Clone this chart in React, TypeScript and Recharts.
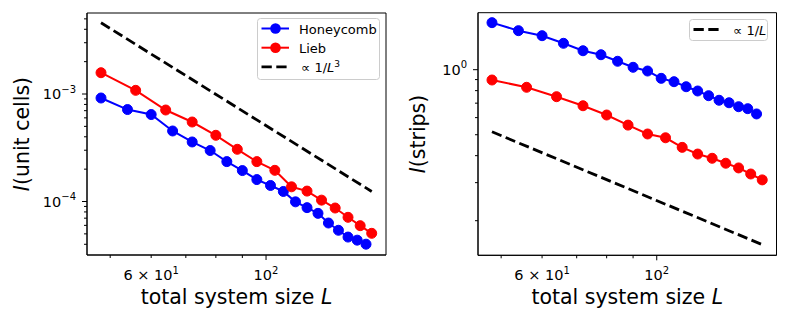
import React from "react";
import { LineChart, Line, XAxis, YAxis, Legend, Label, ReferenceArea } from "recharts";

const FONT = "DejaVu Sans";

// system sizes
const honeycombL = [48, 54, 60, 66, 72, 78, 84, 90, 96, 102, 108, 114, 120, 126, 132, 138, 144, 150, 156];
const liebL = [48, 56, 64, 72, 80, 88, 96, 104, 112, 120, 128, 136, 144, 152, 160];
const guideL = [48, 160];

// left panel: I(unit cells)
const honeycombUnitCells = [
  9.18e-4, 7.17e-4, 6.44e-4, 4.53e-4, 3.58e-4, 2.98e-4, 2.35e-4, 1.94e-4, 1.6e-4, 1.41e-4,
  1.24e-4, 9.93e-5, 8.77e-5, 7.76e-5, 6.31e-5, 5.4e-5, 4.67e-5, 4.37e-5, 4.01e-5,
];
const liebUnitCells = [
  1.578e-3, 1.082e-3, 7.1e-4, 5.49e-4, 4.13e-4, 3.06e-4, 2.35e-4, 1.95e-4, 1.37e-4, 1.25e-4,
  1.03e-4, 8.7e-5, 7.13e-5, 5.96e-5, 5.06e-5,
];
const cubicGuide = [4.6e-3, 1.24e-4];

// right panel: I(strips)
const honeycombStrips = [
  1.651, 1.516, 1.437, 1.325, 1.224, 1.173, 1.094, 1.026, 0.986, 0.912, 0.88, 0.834, 0.797,
  0.758, 0.722, 0.703, 0.674, 0.66, 0.624,
];
const liebStrips = [
  0.896, 0.829, 0.75, 0.681, 0.617, 0.554, 0.504, 0.484, 0.437, 0.407, 0.389, 0.369, 0.351,
  0.329, 0.309,
];
const linearGuide = [0.516, 0.155];

// ticks
const xTicks = [50, 60, 70, 80, 90, 100];
const xMajor = [100];
const xTickLabels = [
  { value: 60, base: "6 × 10", exp: "1" },
  { value: 100, base: "10", exp: "2" },
];
const unitCellTicks = [
  4e-5, 5e-5, 6e-5, 7e-5, 8e-5, 9e-5, 1e-4, 2e-4, 3e-4, 4e-4, 5e-4, 6e-4, 7e-4, 8e-4, 9e-4,
  1e-3, 2e-3, 3e-3, 4e-3, 5e-3,
];
const unitCellMajor = [1e-4, 1e-3];
const unitCellLabels = [
  { value: 1e-4, base: "10", exp: "−4" },
  { value: 1e-3, base: "10", exp: "−3" },
];
const stripTicks = [0.2, 0.3, 0.4, 0.5, 0.6, 0.7, 0.8, 0.9, 1];
const stripMajor = [1];
const stripLabels = [{ value: 1, base: "10", exp: "0" }];

const xDomain = [45.1, 170.5];

const zip = (xs: number[], ys: number[]) => xs.map((L, i) => ({ L, v: ys[i] }));
const same = (a: number, b: number) => Math.abs(Math.log10(a) - Math.log10(b)) < 1e-6;

type TickLab = { value: number; base: string; exp: string };

const makeXTick = (labels: TickLab[], majors: number[]) => (props: any) => {
  const { x, y, payload } = props;
  const lab = labels.find((t) => same(t.value, payload.value));
  const major = majors.some((m) => same(m, payload.value));
  return (
    <g>
      <line x1={x} x2={x} y1={y} y2={y + (major ? 5 : 3)} stroke="#000" strokeWidth={1} />
      {lab && (
        <text x={x} y={y + 25} textAnchor="middle" fontSize={14.5} fontFamily={FONT} fill="#000">
          <tspan>{lab.base}</tspan>
          <tspan dy={-6.5} fontSize={10}>{lab.exp}</tspan>
        </text>
      )}
    </g>
  );
};

const makeYTick = (labels: TickLab[], majors: number[]) => (props: any) => {
  const { x, y, payload } = props;
  const lab = labels.find((t) => same(t.value, payload.value));
  const major = majors.some((m) => same(m, payload.value));
  return (
    <g>
      <line x1={x} x2={x - (major ? 5 : 3)} y1={y} y2={y} stroke="#000" strokeWidth={1} />
      {lab && (
        <text x={x - 11} y={y + 5} textAnchor="end" fontSize={14.5} fontFamily={FONT} fill="#000">
          <tspan>{lab.base}</tspan>
          <tspan dy={-6.5} fontSize={10}>{lab.exp}</tspan>
        </text>
      )}
    </g>
  );
};

type LegendItem = { text: React.ReactNode; color: string; dashed?: boolean; marker?: boolean };

function LegendBox({ items, w, h }: { items: LegendItem[]; w: number; h: number }) {
  return (
    <svg width={w} height={h} style={{ display: "block" }}>
      <rect x={0.5} y={0.5} width={w - 1} height={h - 1} rx={3} fill="#fff" fillOpacity={0.8} stroke="#cccccc" />
      {items.map((it, i) => {
        const cy = 10.5 + i * 19.2;
        return (
          <g key={i}>
            <line
              x1={4.5}
              x2={32}
              y1={cy}
              y2={cy}
              stroke={it.color}
              strokeWidth={it.dashed ? 2.8 : 2}
              strokeDasharray={it.dashed ? "10.3 4.5" : undefined}
            />
            {it.marker && <circle cx={18.5} cy={cy} r={5.3} fill={it.color} />}
            <text x={it.dashed ? 44 : 42} y={cy + 5} fontSize={13} fontFamily={FONT} fill="#000">
              {it.text}
            </text>
          </g>
        );
      })}
    </svg>
  );
}

type PanelProps = {
  blue: { L: number; v: number }[];
  red: { L: number; v: number }[];
  guide: { L: number; v: number }[];
  yDomain: number[];
  yTicks: number[];
  yMajor: number[];
  yLabels: TickLab[];
  yTitle: string;
  margin: { top: number; right: number; bottom: number; left: number };
  xAxisHeight: number;
  yTitleX: number;
  legend: { items: LegendItem[]; left: number; top: number; w: number; h: number };
};

function Panel(p: PanelProps) {
  const W = 394;
  const H = 323;
  const yAxisW = 60;
  const plotLeft = p.margin.left + yAxisW;
  const plotRight = W - p.margin.right;
  const plotTop = p.margin.top;
  const plotBottom = H - p.margin.bottom - p.xAxisHeight;
  const cx = (plotLeft + plotRight) / 2;
  const cy = (plotTop + plotBottom) / 2;

  return (
    <LineChart width={W} height={H} margin={p.margin}>
      <XAxis
        dataKey="L"
        type="number"
        scale="log"
        domain={xDomain}
        allowDataOverflow
        ticks={xTicks}
        interval={0}
        tickSize={0}
        tickMargin={0}
        tickLine={false}
        height={p.xAxisHeight}
        axisLine={{ stroke: "#000", strokeWidth: 1 }}
        tick={makeXTick(xTickLabels, xMajor)}
      >
        <Label
          content={() => (
            <text x={cx} y={plotBottom + 49} textAnchor="middle" fontSize={20.5} fontFamily={FONT} fill="#000">
              total system size <tspan fontStyle="italic">L</tspan>
            </text>
          )}
        />
      </XAxis>
      <YAxis
        type="number"
        scale="log"
        domain={p.yDomain}
        allowDataOverflow
        ticks={p.yTicks}
        interval={0}
        tickSize={0}
        tickMargin={0}
        tickLine={false}
        width={yAxisW}
        axisLine={{ stroke: "#000", strokeWidth: 1 }}
        tick={makeYTick(p.yLabels, p.yMajor)}
      >
        <Label
          content={() => (
            <text
              x={p.yTitleX}
              y={cy}
              transform={`rotate(-90, ${p.yTitleX}, ${cy})`}
              textAnchor="middle"
              fontSize={20.5}
              fontFamily={FONT}
              fill="#000"
            >
              <tspan fontStyle="italic">I</tspan>({p.yTitle})
            </text>
          )}
        />
      </YAxis>
      <ReferenceArea
        x1={xDomain[0]}
        x2={xDomain[1]}
        y1={p.yDomain[0]}
        y2={p.yDomain[1]}
        ifOverflow="visible"
        fill="none"
        fillOpacity={0}
        stroke="#000"
        strokeWidth={1}
        strokeOpacity={1}
      />
      <Line
        data={p.blue}
        dataKey="v"
        type="linear"
        stroke="#0000ff"
        strokeWidth={2}
        dot={{ r: 5, fill: "#0000ff", stroke: "#0000ff", strokeWidth: 1 }}
        isAnimationActive={false}
      />
      <Line
        data={p.red}
        dataKey="v"
        type="linear"
        stroke="#ff0000"
        strokeWidth={2}
        dot={{ r: 5, fill: "#ff0000", stroke: "#ff0000", strokeWidth: 1 }}
        isAnimationActive={false}
      />
      <Line
        data={p.guide}
        dataKey="v"
        type="linear"
        stroke="#000"
        strokeWidth={2.8}
        strokeDasharray="10.3 4.5"
        dot={false}
        isAnimationActive={false}
      />
      <Legend
        layout="vertical"
        align="center"
        verticalAlign="middle"
        wrapperStyle={{ left: p.legend.left, top: p.legend.top, width: p.legend.w, height: p.legend.h }}
        content={() => <LegendBox items={p.legend.items} w={p.legend.w} h={p.legend.h} />}
      />
    </LineChart>
  );
}

export default function App() {
  return (
    <div
      style={{
        position: "absolute",
        left: 0,
        top: 0,
        width: 788,
        height: 323,
        background: "#fff",
        display: "flex",
      }}
    >
      <Panel
        blue={zip(honeycombL, honeycombUnitCells)}
        red={zip(liebL, liebUnitCells)}
        guide={zip(guideL, cubicGuide)}
        yDomain={[3.18e-5, 5.67e-3]}
        yTicks={unitCellTicks}
        yMajor={unitCellMajor}
        yLabels={unitCellLabels}
        yTitle="unit cells"
        margin={{ top: 13, right: 8, bottom: 0, left: 27 }}
        xAxisHeight={68}
        yTitleX={28.5}
        legend={{
          left: 257,
          top: 18,
          w: 123,
          h: 62,
          items: [
            { text: "Honeycomb", color: "#0000ff", marker: true },
            { text: "Lieb", color: "#ff0000", marker: true },
            {
              text: (
                <>
                  ∝ 1/<tspan fontStyle="italic">L</tspan>
                  <tspan dy={-5} fontSize={9}>3</tspan>
                </>
              ),
              color: "#000",
              dashed: true,
            },
          ],
        }}
      />
      <Panel
        blue={zip(honeycombL, honeycombStrips)}
        red={zip(liebL, liebStrips)}
        guide={zip(guideL, linearGuide)}
        yDomain={[0.1383, 1.836]}
        yTicks={stripTicks}
        yMajor={stripMajor}
        yLabels={stripLabels}
        yTitle="strips"
        margin={{ top: 12.7, right: 11.5, bottom: 0, left: 24 }}
        xAxisHeight={67.7}
        yTitleX={30.5}
        legend={{
          left: 295,
          top: 19,
          w: 79,
          h: 22,
          items: [
            {
              text: (
                <>
                  ∝ 1/<tspan fontStyle="italic">L</tspan>
                </>
              ),
              color: "#000",
              dashed: true,
            },
          ],
        }}
      />
    </div>
  );
}
